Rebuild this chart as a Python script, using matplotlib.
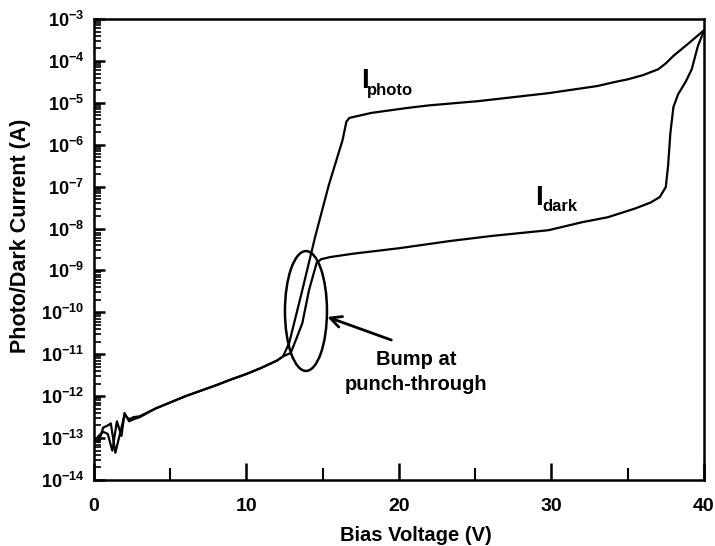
import numpy as np
import matplotlib
matplotlib.use("Agg")
import matplotlib.pyplot as plt
from matplotlib.patches import Ellipse
from matplotlib.ticker import FixedLocator, FuncFormatter, LogLocator, NullFormatter

plt.rcParams["font.family"] = ["Liberation Sans", "DejaVu Sans"]
plt.rcParams["font.weight"] = "bold"
plt.rcParams["mathtext.fontset"] = "custom"
plt.rcParams["mathtext.rm"] = "Liberation Sans:bold"
plt.rcParams["mathtext.bf"] = "Liberation Sans:bold"
plt.rcParams["mathtext.it"] = "Liberation Sans:bold"

# data (log10 of current in A)
v_photo = [0, 0.3, 0.6, 0.9, 1.2, 1.5, 1.8, 2.0, 2.3, 2.6, 3, 4, 5, 6, 7, 8, 9, 10,
           11, 12, 12.4, 12.8, 13.66, 14.5, 15.4, 16.3, 16.55, 16.75, 18.2, 20.6,
           22, 25.2, 29.8, 33, 34.2, 35, 36, 37, 37.5, 38, 39, 40]
log_photo = [-13.1, -12.95, -12.85, -12.9, -13.3, -12.6, -12.95, -12.4, -12.6,
             -12.55, -12.5, -12.3, -12.15, -12.0, -11.87, -11.74, -11.6, -11.47,
             -11.32, -11.15, -11.05, -10.73, -9.47, -8.2, -6.96, -5.89, -5.45,
             -5.36, -5.24, -5.12, -5.06, -4.96, -4.77, -4.6, -4.5, -4.44, -4.34,
             -4.2, -4.06, -3.88, -3.58, -3.27]

v_dark = [0, 0.3, 0.6, 0.9, 1.1, 1.4, 1.7, 2.0, 2.3, 2.6, 3, 4, 5, 6, 7, 8, 9, 10,
          11, 12, 12.4, 12.9, 13.3, 13.66, 14.1, 14.6, 14.9, 15.5, 17, 20, 23.3,
          26, 29.8, 32, 33.7, 35.5, 36.5, 37.1, 37.5, 37.65, 37.8, 38.0, 38.3,
          38.8, 39.2, 39.6, 40]
log_dark = [-13.0, -13.1, -12.75, -12.7, -12.65, -13.35, -12.9, -12.45, -12.55,
            -12.5, -12.48, -12.3, -12.15, -12.0, -11.87, -11.74, -11.6, -11.47,
            -11.32, -11.15, -11.05, -10.97, -10.6, -10.26, -9.47, -8.82, -8.73,
            -8.68, -8.6, -8.47, -8.3, -8.18, -8.04, -7.85, -7.73, -7.52, -7.38,
            -7.25, -7.01, -6.5, -5.72, -5.1, -4.8, -4.5, -4.2, -3.65, -3.28]

fig = plt.figure(figsize=(7.15, 5.46), dpi=100)
ax = fig.add_axes([0.1315, 0.1209, 0.853, 0.8443])

ax.semilogy(v_photo, 10.0 ** np.array(log_photo), color="black", lw=1.6)
ax.semilogy(v_dark, 10.0 ** np.array(log_dark), color="black", lw=1.6)

ax.set_xlim(0, 40)
ax.set_ylim(1e-14, 1e-3)

ax.xaxis.set_major_locator(FixedLocator([0, 10, 20, 30, 40]))
ax.xaxis.set_minor_locator(FixedLocator([5, 15, 25, 35]))
ax.yaxis.set_major_locator(LogLocator(base=10, numticks=20))
ax.yaxis.set_minor_locator(LogLocator(base=10, subs=np.arange(2, 10), numticks=20))
ax.yaxis.set_minor_formatter(NullFormatter())
ax.yaxis.set_major_formatter(FuncFormatter(
    lambda y, pos: r"$\mathbf{10^{%d}}$" % int(round(np.log10(y)))))

ax.tick_params(axis="both", which="both", direction="in", top=False, right=False)
ax.tick_params(axis="x", which="major", length=12, width=1.8, pad=13, labelsize=14)
ax.tick_params(axis="x", which="minor", length=9, width=1.5)
ax.tick_params(axis="y", which="major", length=8, width=1.8, pad=7, labelsize=13)
ax.tick_params(axis="y", which="minor", length=5, width=1.2)

for s in ax.spines.values():
    s.set_linewidth(1.8)

ax.set_xlabel("Bias Voltage (V)", fontsize=14.5, fontweight="bold")
ax.xaxis.set_label_coords(0.528, -0.0998)
ax.set_ylabel("Photo/Dark Current (A)", fontsize=15.5, fontweight="bold")
ax.yaxis.set_label_coords(-0.103, 0.53)

# curve labels: big I with a small subscript
ax.text(17.5, 10 ** -4.65, "I", fontsize=20, ha="left", va="baseline")
ax.text(17.9, 10 ** -4.81, "photo", fontsize=12, ha="left", va="baseline")
ax.text(28.95, 10 ** -7.44, "I", fontsize=20, ha="left", va="baseline")
ax.text(29.4, 10 ** -7.58, "dark", fontsize=12, ha="left", va="baseline")

ax.add_patch(Ellipse((0.3475, 0.3666), 0.0689, 0.26, transform=ax.transAxes,
                     fill=False, edgecolor="black", lw=1.8))

ax.annotate("", xy=(15.3, 10 ** -10.11), xytext=(19.5, 10 ** -10.66),
            arrowprops=dict(arrowstyle="->", lw=2, color="black",
                            mutation_scale=20, shrinkA=0, shrinkB=0))
ax.text(21.1, 10 ** -11.42, "Bump at\npunch-through", fontsize=14.5,
        ha="center", va="center", linespacing=1.4)

fig.savefig("out.png", dpi=100)
